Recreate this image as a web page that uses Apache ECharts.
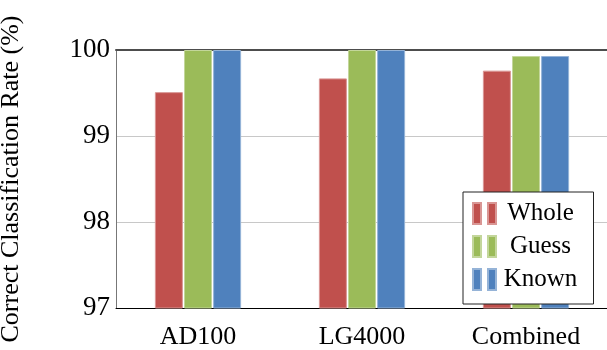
<!DOCTYPE html>
<html>
<head>
<meta charset="utf-8">
<script src="https://cdn.jsdelivr.net/npm/echarts@6/dist/echarts.min.js"></script>
<style>html,body{margin:0;padding:0;background:#fff;}#c{width:607px;height:350px;}</style>
</head>
<body>
<div id="c"></div>
<script>
var categories = ['AD100', 'LG4000', 'Combined'];
var seriesNames = ['Whole', 'Guess', 'Known'];
var whole = [99.51, 99.67, 99.76];
var guess = [100, 100, 99.93];
var known = [100, 100, 99.93];
var yTicks = [97, 98, 99, 100];

var fills = ['#C0504D', '#9BBB59', '#4F81BD'];
var borders = ['#D99694', '#C3D69B', '#95B3D7'];
var values = [whole, guess, known];

var chart = echarts.init(document.getElementById('c'), null, {renderer: 'canvas'});
var serif = 'Liberation Serif';
var option = {
  animation: false,
  backgroundColor: '#fff',
  grid: {left: 116, right: -1, top: 50, bottom: 42, containLabel: false, outerBoundsMode: 'none'},
  legend: {
    orient: 'vertical',
    left: 463, top: 192,
    padding: [9, 14, 12, 9],
    itemGap: 8,
    itemWidth: 24, itemHeight: 21,
    backgroundColor: '#fff',
    borderColor: '#222', borderWidth: 1,
    data: seriesNames.map(function (n) {
      return {name: n, icon: 'path://M0,0h8v21h-8zM15,0h8v21h-8z'};
    }),
    formatter: function (n) { return '{a|' + n + '}'; },
    textStyle: {
      rich: {a: {width: 78, align: 'center', fontFamily: serif, fontSize: 25, color: '#000', lineHeight: 24}}
    }
  },
  xAxis: [{
    type: 'category', data: categories, position: 'bottom',
    axisLine: {show: true, lineStyle: {color: '#000', width: 1}},
    axisTick: {show: false},
    axisLabel: {margin: 16, fontFamily: serif, fontSize: 26, color: '#000'},
    splitLine: {show: false}
  }, {
    type: 'category', data: categories, position: 'top',
    axisLine: {show: true, lineStyle: {color: '#4d4d4d', width: 2}},
    axisTick: {show: false}, axisLabel: {show: false}, splitLine: {show: false}
  }],
  yAxis: {
    type: 'value', min: yTicks[0], max: yTicks[yTicks.length - 1], interval: 1,
    name: 'Correct Classification Rate (%)',
    nameLocation: 'middle', nameGap: 92,
    nameTextStyle: {fontFamily: serif, fontSize: 26, color: '#000'},
    axisLine: {show: true, lineStyle: {color: '#777', width: 1}},
    axisTick: {show: false},
    axisLabel: {margin: 6, fontFamily: serif, fontSize: 27, color: '#000'},
    splitLine: {show: true, lineStyle: {color: '#c8c8c8', width: 1}, showMinLine: false, showMaxLine: false}
  },
  series: seriesNames.map(function (n, i) {
    return {
      name: n, type: 'bar', xAxisIndex: 0,
      data: values[i],
      barWidth: 28, barGap: '4%',
      itemStyle: {color: fills[i], borderColor: borders[i], borderWidth: 1}
    };
  })
};
chart.setOption(option);
</script>
</body>
</html>
